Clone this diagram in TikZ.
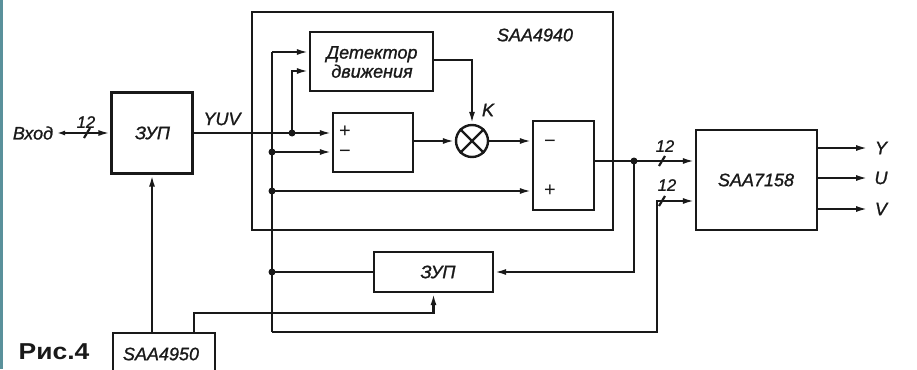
\documentclass[tikz,border=0pt]{standalone}
\usepackage{fontspec}
\setmainfont{Liberation Sans}[ItalicFeatures={FakeBold=1.2}]
\newfontfamily\figfont{Liberation Sans}
\usetikzlibrary{arrows.meta}
\definecolor{stripe}{RGB}{90,145,155}
\definecolor{ink}{RGB}{25,25,25}
\tikzset{
  wire/.style={draw=ink,line width=2.2pt},
  arr/.style={wire,-{Latex[length=12pt,width=6pt]}},
  blk/.style={draw=ink,line width=2.4pt,rectangle,inner sep=0pt,fill=none},
  lbl/.style={text=ink,font=\fontsize{18}{20}\selectfont\itshape,inner sep=0pt},
  sml/.style={text=ink,font=\fontsize{16.5}{18}\selectfont\itshape,inner sep=0pt},
  sgn/.style={text=ink,font=\fontsize{20}{21}\selectfont,inner sep=0pt,text height=8pt,text depth=0pt},
  dot/.style={circle,fill=ink,inner sep=0pt,minimum size=7pt},
}
\begin{document}
\begin{tikzpicture}[x=1pt,y=-1pt]
\useasboundingbox (0,0) rectangle (917,369);
\fill[stripe] (0,0) rectangle (3,369);
% blocks
\node[blk,minimum width=361pt,minimum height=218pt] (saa4940) at (432.5,121) {};
\node[lbl] (saa4940t) at (535,35) {SAA4940};
\node[blk,minimum width=81pt,minimum height=81pt] (zup1) at (152,133) {};
\node[lbl] (zup1t) at (152.5,133) {ЗУП};
\node[blk,minimum width=123pt,minimum height=59pt] (det) at (371.5,61.5) {};
\node[lbl,align=center] (dett) at (372,62) {Детектор\\[-1pt]движения};
\node[blk,minimum width=80pt,minimum height=59pt] (sub1) at (373,142.5) {};
\node[sgn] (p1) at (345,133) {+};
\node[sgn] (m1) at (345,153) {−};
\node[draw=ink,line width=2.4pt,circle,minimum size=32pt,inner sep=0pt] (mul) at (472,141) {};
\draw[wire] (mul.north west) -- (mul.south east);
\draw[wire] (mul.north east) -- (mul.south west);
\node[blk,minimum width=61pt,minimum height=89pt] (sub2) at (563.5,165.5) {};
\node[sgn] (m2) at (550,143) {−};
\node[sgn] (p2) at (550,192) {+};
\node[blk,minimum width=121pt,minimum height=100pt] (saa7158) at (756.5,180) {};
\node[lbl] (saa7158t) at (756,180) {SAA7158};
\node[blk,minimum width=119pt,minimum height=40pt] (zup2) at (433.5,272) {};
\node[lbl] (zup2t) at (438,272) {ЗУП};
\node[blk,minimum width=102pt,minimum height=60pt] (saa4950) at (164,363) {};
\node[lbl] (saa4950t) at (161,354) {SAA4950};
\node[text=ink,font=\fontsize{23}{25}\selectfont\figfont\bfseries,inner sep=0pt,xscale=1.15] (fig) at (54,352) {Рис.4};
% labels
\node[lbl] (vhod) at (33,133) {Вход};
\node[lbl] (yuv) at (222,119) {YUV};
\node[lbl] (k) at (488,110) {K};
\node[sml] (n12a) at (86,122) {12};
\node[sml] (n12b) at (665,146) {12};
\node[sml] (n12c) at (667,185) {12};
% coordinates
\coordinate (bTop) at (272,52);
\coordinate (bY152) at (272,152);
\coordinate (bY191) at (272,191);
\coordinate (bY272) at (272,272);
\coordinate (bBot) at (272,332);
\coordinate (jYUV) at (292,133);
\coordinate (jOut) at (634,161);
\coordinate (c2) at (657,201);
\coordinate (c3) at (194,313);
\coordinate (vin) at (57,133);
% connectors
\draw[wire,{Latex[length=8pt,width=5pt]}-{Latex[length=12pt,width=6pt]}] (vin) -- (zup1.west);
\draw[wire] (84,138) -- (90,128);
\draw[wire] (bTop) -- (bBot);
\draw[arr] (bTop) -- (det.west |- bTop);
\draw[arr] (jYUV) |- (det.west |- 0,71);
\draw[arr] (zup1.east |- jYUV) -- (sub1.west |- jYUV);
\draw[arr] (bY152) -- (sub1.west |- bY152);
\draw[arr] (bY191) -- (sub2.west |- bY191);
\draw[arr] (sub1.east |- mul.west) -- (mul.west);
\draw[arr] (mul.east) -- (sub2.west |- mul.east);
\draw[arr] (det.east |- 0,60) -| (mul.north);
\draw[wire] (sub2.east |- jOut) -- (jOut);
\draw[arr] (jOut) -- (saa7158.west |- jOut);
\draw[wire] (659,166) -- (665,156);
\draw[arr] (jOut) |- (zup2.east);
\draw[wire] (zup2.west) -- (bY272);
\draw[arr] (bBot) -| (c2) -- (saa7158.west |- c2);
\draw[wire] (659,206) -- (665,196);
\draw[arr] (zup1.south |- saa4950.north) -- (zup1.south);
\draw[arr] (saa4950.north -| c3) -- (c3) -| (zup2.south);
% outputs
\draw[arr] (saa7158.east |- 0,148) -- (868,148);
\draw[arr] (saa7158.east |- 0,178) -- (868,178);
\draw[arr] (saa7158.east |- 0,209) -- (868,209);
\node[lbl] (oy) at (881,148) {Y};
\node[lbl] (ou) at (881,178) {U};
\node[lbl] (ov) at (881,209) {V};
% dots
\foreach \p in {jYUV,bY152,bY191,bY272,jOut} \node[dot] at (\p) {};
\end{tikzpicture}
\end{document}
